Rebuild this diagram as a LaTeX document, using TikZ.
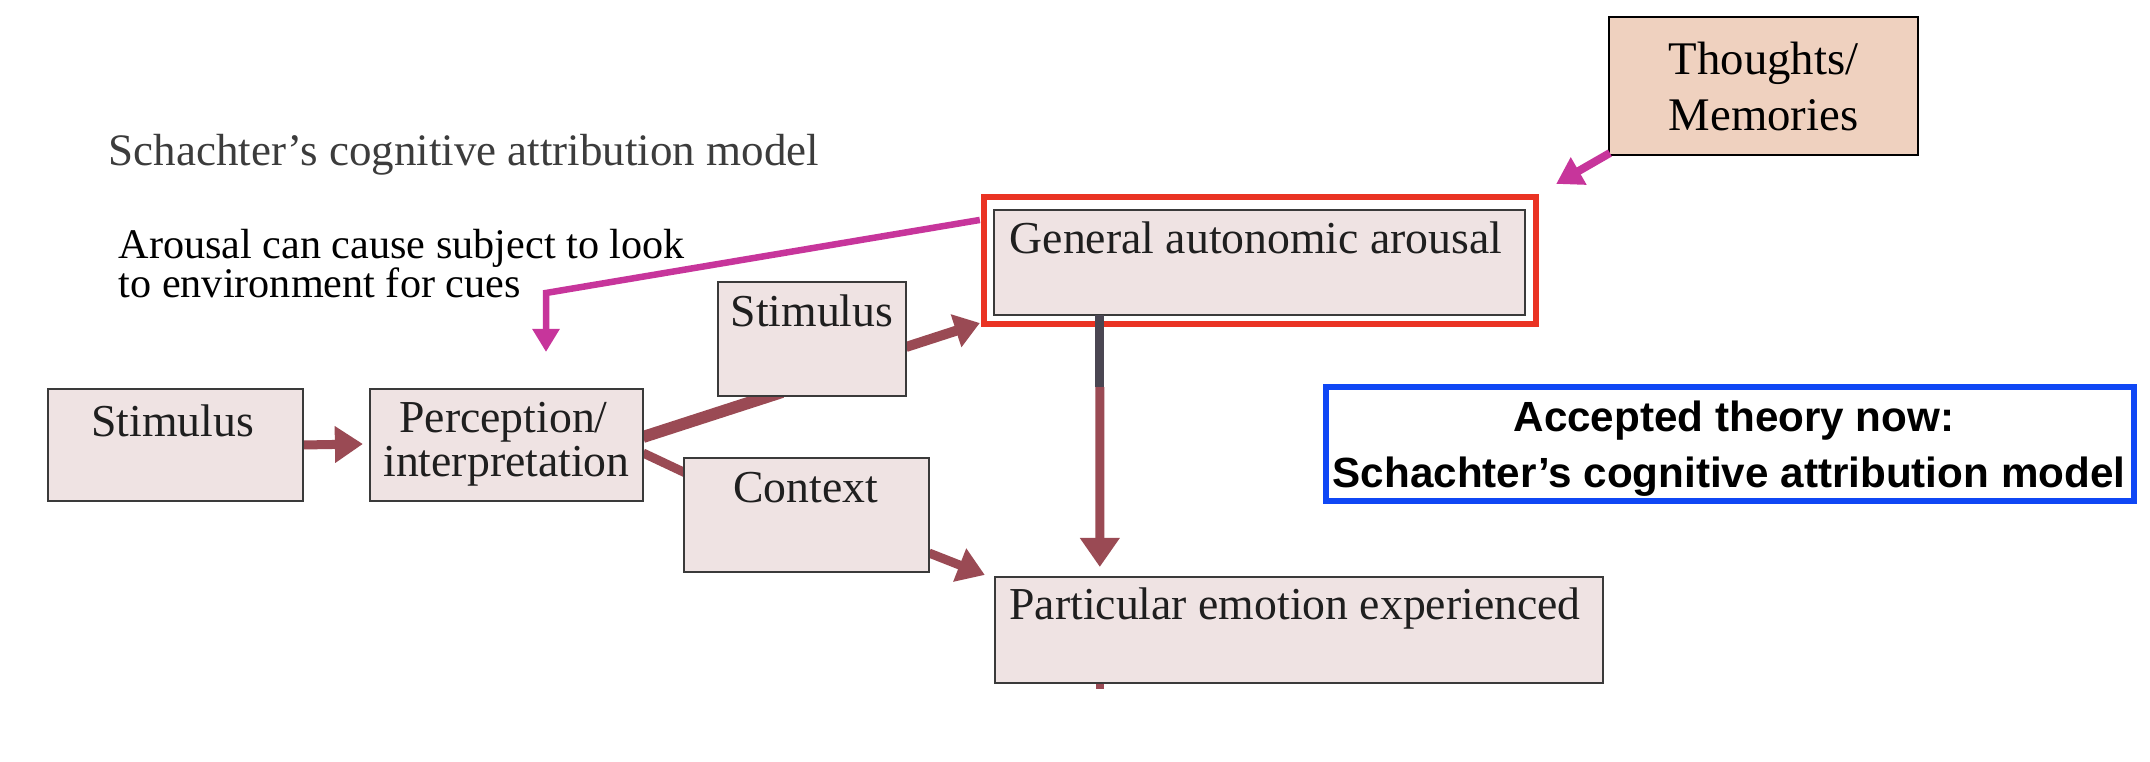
\documentclass[tikz,border=0pt]{standalone}
\usepackage{fontspec}
\setmainfont{Liberation Serif}
\newfontfamily\sansfont{Liberation Sans}
\usetikzlibrary{arrows.meta,calc}
\definecolor{boxfill}{HTML}{EFE3E3}
\definecolor{boxline}{HTML}{3A3A3A}
\definecolor{maroon}{HTML}{9A4A54}
\definecolor{darkstem}{HTML}{4A4652}
\definecolor{magentaline}{HTML}{C7359B}
\definecolor{redframe}{HTML}{EA3323}
\definecolor{blueframe}{HTML}{0F47F5}
\definecolor{peach}{HTML}{EFD1BF}
\definecolor{titlegray}{HTML}{3C3C3C}
\pgfdeclarelayer{bg}
\pgfdeclarelayer{back}
\pgfsetlayers{bg,back,main}
\begin{document}
\begin{tikzpicture}[x=0.01cm,y=-0.01cm,
  box/.style={rectangle, draw=boxline, fill=boxfill, line width=0.02cm, inner sep=0pt, outer sep=0pt},
  boxtext/.style={font=\fontsize{13pt}{15pt}\selectfont, text=black!88, inner sep=0pt, anchor=base},
  flow/.style={draw=maroon, line width=0.09cm},
  hint/.style={draw=magentaline},
  frame/.style={rectangle, line width=0.06cm, inner sep=0pt, outer sep=0pt}
]
\begin{pgfonlayer}{bg}
\fill[white] (0,0) rectangle (2150,762);
\end{pgfonlayer}
\useasboundingbox (0,0) rectangle (2150,762);

% title
\node[font=\fontsize{12.8pt}{15pt}\selectfont, text=titlegray, inner sep=0pt, anchor=base west] (title) at (108,166) {Schachter’s cognitive attribution model};

% annotation
\node[font=\fontsize{12pt}{14pt}\selectfont, inner sep=0pt, anchor=base west] (noteA) at (118,259) {Arousal can cause subject to look};
\node[font=\fontsize{12pt}{14pt}\selectfont, inner sep=0pt, anchor=base west] (noteB) at (118,298) {to environment for cues};

% boxes
\node[box, minimum width=2.55cm, minimum height=1.12cm] (stim1) at (175.5,445) {};
\node[boxtext] (stim1t) at ($(stim1.north)+(-3,48)$) {Stimulus};

\node[box, minimum width=2.73cm, minimum height=1.12cm] (perc) at (506.5,445) {};
\node[boxtext] (percA) at ($(perc.north)+(-3,44)$) {Perception/};
\node[boxtext] (percB) at ($(perc.north)+(0,88)$) {interpretation};

\node[box, minimum width=1.88cm, minimum height=1.14cm] (stim2) at (812,339) {};
\node[boxtext] (stim2t) at ($(stim2.north)+(0,45)$) {Stimulus};

\node[box, minimum width=2.45cm, minimum height=1.14cm] (ctx) at (806.5,515) {};
\node[boxtext] (ctxt) at ($(ctx.north)+(-1,45)$) {Context};

\node[box, minimum width=5.31cm, minimum height=1.05cm] (gen) at (1259.5,262.5) {};
\node[boxtext] (gent) at ($(gen.north)+(-3.5,44)$) {General autonomic arousal};

\node[frame, draw=redframe, minimum width=5.52cm, minimum height=1.27cm] (red) at (1260,260.5) {};

\node[box, minimum width=6.08cm, minimum height=1.06cm] (part) at (1299,630) {};
\node[boxtext] (partt) at ($(part.north)+(-4,43)$) {Particular emotion experienced};

\node[rectangle, draw=black, fill=peach, line width=0.02cm, inner sep=0pt, outer sep=0pt, minimum width=3.09cm, minimum height=1.38cm] (thoughts) at (1763.5,86) {};
\node[font=\fontsize{13.3pt}{16pt}\selectfont, inner sep=0pt, anchor=base] (thoughtsA) at ($(thoughts.north)+(0,58)$) {Thoughts/};
\node[font=\fontsize{13.3pt}{16pt}\selectfont, inner sep=0pt, anchor=base] (thoughtsB) at ($(thoughts.north)+(0,114)$) {Memories};

\node[frame, draw=blueframe, fill=white, minimum width=8.08cm, minimum height=1.14cm] (blue) at (1730,444) {};
\node[font=\sansfont\bfseries\fontsize{12pt}{14pt}\selectfont, inner sep=0pt, anchor=base] (blueA) at ($(blue.north)+(4,45)$) {Accepted theory now:};
\node[font=\sansfont\bfseries\fontsize{12pt}{14pt}\selectfont, inner sep=0pt, anchor=base] (blueB) at ($(blue.north)+(-1,101)$) {Schachter’s cognitive attribution model};

% connector coordinates
\coordinate (s1p) at ($(perc.west)+(-7,-1)$);
\coordinate (pstA) at ($(perc.east)+(0,-8)$);
\coordinate (pstB) at ($(stim2.south)+(-30,-4)$);
\coordinate (sgA) at ($(stim2.east)+(0,8)$);
\coordinate (sgB) at ($(red.south west)+(-4,-1)$);
\coordinate (pcA) at ($(perc.east)+(0,8)$);
\coordinate (pcB) at ($(ctx.north west)+(10,19)$);
\coordinate (cpA) at ($(ctx.south east)+(0,-19)$);
\coordinate (cpB) at ($(part.north west)+(-10,-2)$);
\coordinate (vtop) at ($(gen.south west)+(106,0)$);
\coordinate (vmid) at ($(vtop)+(0,72)$);
\coordinate (vtip) at ($(part.north west)+(105,-10)$);
\coordinate (stubA) at ($(part.south west)+(105,-4)$);
\coordinate (stubB) at ($(part.south west)+(105,6)$);
\coordinate (magA) at ($(red.north west)+(-4,23)$);
\coordinate (magBend) at (546,293);
\coordinate (magTip) at ($(perc.north)+(39.5,-37)$);
\coordinate (thA) at ($(thoughts.south west)+(1,-2)$);
\coordinate (thB) at ($(red.north east)+(20,-13)$);

\begin{pgfonlayer}{back}
% maroon flow connectors
\draw[flow, -{Triangle[length=0.28cm, width=0.35cm]}] (stim1.east) -- (s1p);
\draw[flow, line width=0.12cm] (pstA) -- (pstB);
\draw[flow, line width=0.10cm, -{Triangle[length=0.25cm, width=0.33cm]}] (sgA) -- (sgB);
\draw[flow] (pcA) -- (pcB);
\draw[flow, -{Triangle[length=0.27cm, width=0.34cm]}] (cpA) -- (cpB);
\draw[flow, -{Triangle[length=0.29cm, width=0.38cm]}] (vmid) -- (vtip);
\draw[flow, line width=0.08cm] (stubA) -- (stubB);
\end{pgfonlayer}
\draw[draw=darkstem, line width=0.09cm] (vtop) -- (vmid);

% magenta hint arrows
\draw[hint, line width=0.065cm, -{Triangle[length=0.23cm, width=0.26cm]}] (magA) -- (magBend) -- (magTip);
\draw[hint, line width=0.08cm, -{Triangle[length=0.26cm, width=0.30cm]}] (thA) -- (thB);
\end{tikzpicture}
\end{document}
